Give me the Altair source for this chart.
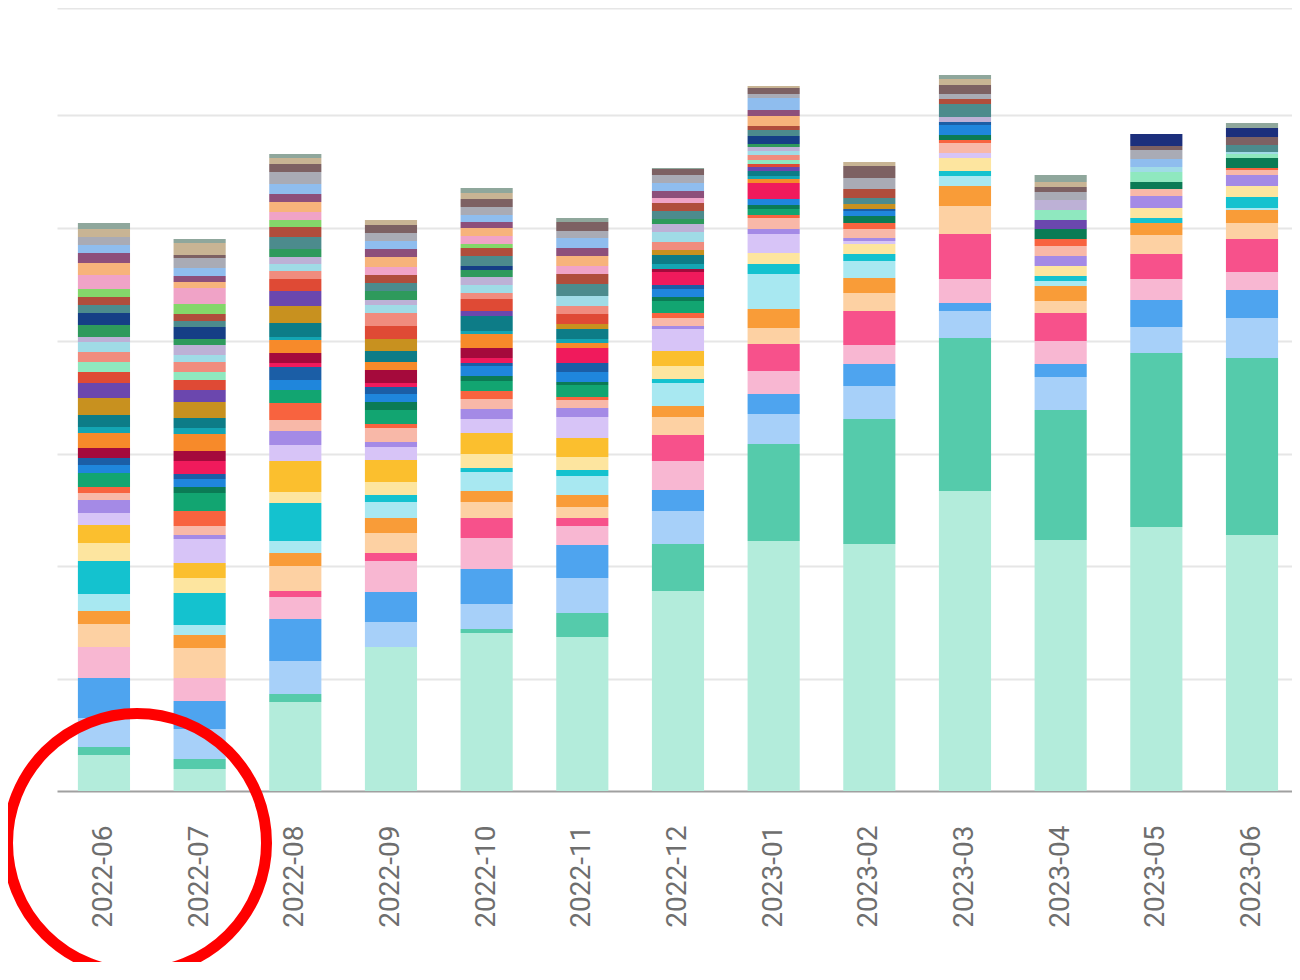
import altair as alt
import pandas as pd

months = ["2022-06", "2022-07", "2022-08", "2022-09", "2022-10", "2022-11", "2022-12",
          "2023-01", "2023-02", "2023-03", "2023-04", "2023-05", "2023-06"]

series_colors = [
    "#b3ecdb", "#55cbab", "#a7d0f9", "#4ea4ef", "#f8b7d2", "#f7518b", "#fdd1a3", "#f99c38",
    "#a8e8f1", "#14c2cf", "#fde59f", "#fbbf2e", "#d7c4f7", "#a48ae6", "#f8b8a8", "#f8633f",
    "#12a571", "#0b7b55", "#1f86dc", "#1b5ea6", "#f01a5c", "#a50a3c", "#f78a2a", "#14a5b3",
    "#0d7c87", "#c8911f", "#6b47ae", "#df4a35", "#8fe8bf", "#f08c7e", "#a0dbe6", "#bdb1d6",
    "#2e9a5c", "#153f86", "#4c8b8d", "#b04d3c", "#84d76a", "#f0a3c7", "#f7b37b", "#8d4f7b",
    "#8fbdee", "#a9abb5", "#7d6163", "#c8b494", "#1c2f7c", "#8fa79c",
]
series_names = ["S%02d" % (i + 1) for i in range(len(series_colors))]

# segment heights per month, bottom to top (same series order in every bar)
v_2022_06 = [36, 8, 29, 40, 31, 0, 23, 13, 17, 33, 18, 18, 12, 13, 7, 6,
             14, 0, 8, 7, 0, 10, 15, 6, 12, 17, 15, 11, 10, 10, 10, 5, 12, 12, 8, 8, 8, 14, 12, 10, 8, 8, 0, 8, 0, 6]
v_2022_07 = [22, 10, 30, 28, 23, 0, 30, 13, 10, 32, 15, 15, 24, 4, 9, 15,
             18, 6, 8, 5, 13, 10, 17, 6, 10, 16, 12, 10, 8, 10, 7, 10, 6, 12, 6, 7, 10, 16, 6, 6, 8, 10, 3, 12, 0, 4]
v_2022_08 = [89, 8, 33, 42, 22, 6, 25, 13, 12, 38, 11, 31, 16, 14, 11, 17,
             13, 0, 10, 13, 4, 10, 13, 3, 14, 17, 15, 12, 0, 8, 7, 7, 8, 0, 12, 10, 7, 8, 10, 8, 10, 12, 8, 6, 0, 4]
v_2022_09 = [144, 0, 25, 30, 31, 8, 20, 15, 16, 7, 13, 22, 13, 5, 14, 4,
             14, 8, 8, 7, 4, 13, 8, 0, 11, 12, 0, 13, 0, 13, 8, 5, 9, 0, 8, 8, 0, 8, 10, 8, 8, 8, 8, 5, 0, 0]
v_2022_10 = [158, 4, 25, 35, 31, 20, 16, 11, 19, 4, 14, 21, 14, 10, 10, 8,
             10, 5, 10, 3, 5, 10, 14, 3, 15, 0, 5, 12, 0, 6, 8, 8, 7, 4, 10, 8, 4, 8, 8, 6, 7, 8, 8, 6, 0, 5]
v_2022_11 = [154, 24, 35, 33, 19, 8, 11, 12, 19, 6, 13, 19, 21, 9, 8, 3,
             12, 3, 10, 9, 15, 0, 5, 4, 10, 5, 0, 10, 0, 8, 10, 0, 0, 0, 12, 10, 0, 8, 10, 8, 10, 7, 9, 0, 0, 4]
v_2022_12 = [200, 47, 33, 21, 29, 26, 18, 11, 23, 4, 13, 15, 22, 3, 8, 5,
             12, 4, 8, 4, 13, 3, 0, 5, 9, 5, 0, 0, 0, 8, 10, 8, 5, 0, 8, 8, 0, 5, 0, 7, 8, 8, 6, 0, 0, 1]
v_2023_01 = [250, 97, 30, 20, 23, 27, 16, 19, 35, 10, 11, 0, 19, 5, 11, 3,
             6, 4, 6, 0, 16, 0, 4, 3, 5, 0, 4, 3, 4, 5, 4, 4, 3, 8, 6, 4, 0, 0, 10, 6, 12, 4, 6, 2, 0, 0]
v_2023_02 = [247, 125, 33, 22, 19, 34, 18, 15, 17, 7, 10, 0, 3, 3, 9, 6,
             0, 7, 5, 2, 0, 0, 0, 0, 0, 5, 0, 0, 0, 0, 0, 0, 0, 0, 6, 9, 0, 0, 0, 0, 0, 11, 12, 4, 0, 0]
v_2023_03 = [300, 153, 27, 8, 24, 45, 28, 20, 10, 5, 13, 0, 5, 0, 10, 3,
             0, 5, 10, 3, 0, 0, 0, 0, 0, 0, 0, 0, 0, 0, 0, 5, 0, 0, 13, 5, 0, 0, 0, 0, 0, 5, 9, 6, 0, 4]
v_2023_04 = [251, 130, 33, 13, 23, 28, 12, 15, 5, 5, 10, 0, 0, 10, 10, 7,
             0, 10, 0, 0, 0, 0, 0, 0, 0, 0, 9, 0, 10, 0, 0, 10, 0, 0, 0, 0, 0, 0, 0, 0, 0, 8, 5, 5, 0, 7]
v_2023_05 = [264, 174, 26, 27, 21, 25, 19, 12, 0, 5, 10, 0, 0, 12, 7, 0,
             0, 7, 0, 0, 0, 0, 0, 0, 0, 0, 0, 0, 10, 0, 5, 0, 0, 0, 0, 0, 0, 0, 0, 0, 8, 9, 4, 0, 12, 0]
v_2023_06 = [256, 177, 40, 28, 18, 33, 16, 13, 2, 11, 11, 0, 0, 11, 5, 2,
             0, 10, 0, 0, 0, 0, 0, 0, 0, 0, 0, 0, 4, 0, 2, 0, 0, 0, 7, 0, 0, 0, 0, 0, 0, 0, 8, 0, 9, 5]

month_values = [v_2022_06, v_2022_07, v_2022_08, v_2022_09, v_2022_10, v_2022_11, v_2022_12,
                v_2023_01, v_2023_02, v_2023_03, v_2023_04, v_2023_05, v_2023_06]

grid_values = [112, 225, 337, 450, 563, 676, 783]

# annotation circle drawn below the first two labels' baseline
circle_value = [-52]

rows = []
for m, vals in zip(months, month_values):
    for i, (name, v) in enumerate(zip(series_names, vals)):
        if v > 0:
            rows.append({"month": m, "series": name, "idx": i, "value": v})
df = pd.DataFrame(rows)
circ = pd.DataFrame({"value": circle_value})

x_scale = alt.Scale(domain=months, paddingInner=0.455, paddingOuter=0.182, align=0.6)
y_scale = alt.Scale(domain=[0, 783], nice=False, zero=True)

bars = alt.Chart(df).mark_bar().encode(
    x=alt.X("month:N", sort=months, scale=x_scale, title=None,
            axis=alt.Axis(labelAngle=270, labelFontSize=28, labelFont="Roboto",
                          labelColor="#6e6e6e", ticks=False, tickSize=0, labelPadding=34,
                          domainColor="#a0a0a0", domainWidth=2, grid=False)),
    y=alt.Y("value:Q", stack="zero", scale=y_scale, title=None,
            axis=alt.Axis(values=grid_values, labels=False, ticks=False, domain=False,
                          grid=True, gridColor="#e6e6e6", gridWidth=2)),
    color=alt.Color("series:N", scale=alt.Scale(domain=series_names, range=series_colors), legend=None),
    order=alt.Order("idx:Q", sort="ascending"),
)

ring = alt.Chart(circ).mark_point(shape="circle", filled=False, stroke="#ff0000",
                                  strokeWidth=11, size=67081, opacity=1).encode(
    x=alt.value(80),
    y=alt.Y("value:Q", scale=y_scale),
)

chart = alt.layer(bars, ring).properties(
    width=1235, height=783,
    padding={"left": 49, "top": 0, "right": 0, "bottom": 171},
    autosize=alt.AutoSizeParams(type="none"),
).configure_view(strokeWidth=0)

chart.save("out.html", embed_options={"renderer": "svg", "actions": False})
